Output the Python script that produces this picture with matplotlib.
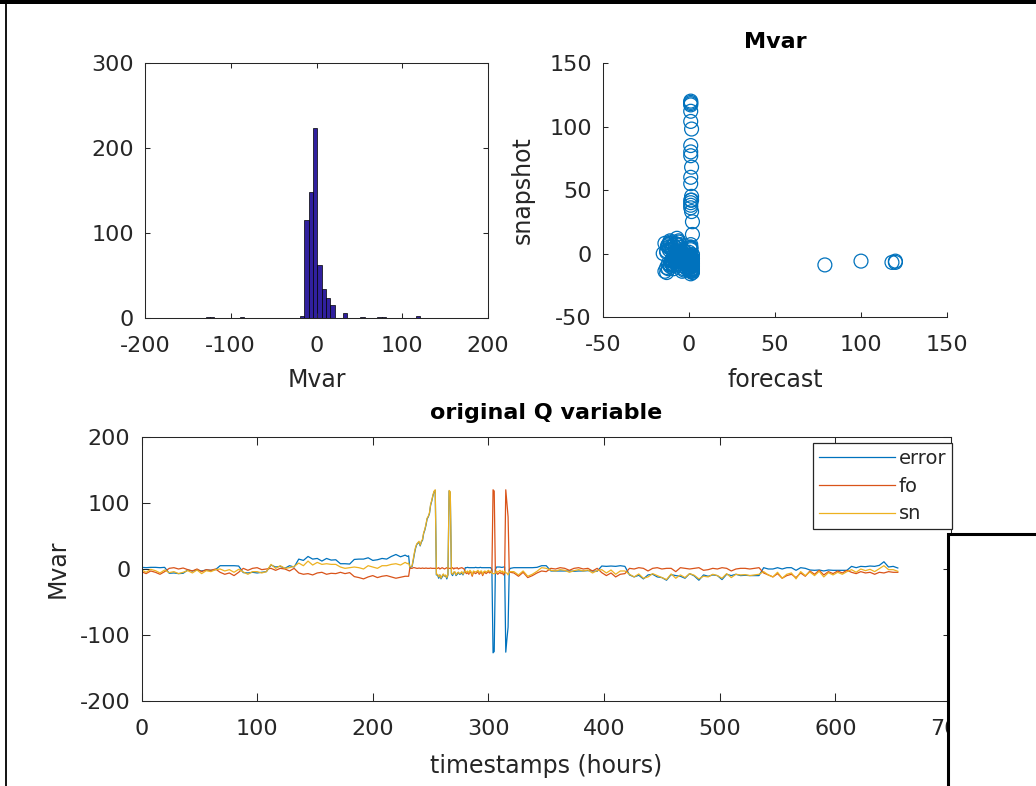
import numpy as np
import matplotlib.pyplot as plt
from matplotlib.patches import Rectangle
from matplotlib.lines import Line2D

# histogram of the error: left edge of each non-empty 5 Mvar bin and its count
hist_bin_left = [-129, -124, -89, -19, -14, -9, -4, 1, 6, 11, 16, 31, 51, 71, 76, 116]
hist_counts = [1, 1, 1, 2, 115, 148, 224, 62, 34, 23, 15, 6, 1, 1, 1, 2]
bin_width = 5

# time axis (hours), hourly around the spikes
hours = list(range(0, 229, 4)) + list(range(230, 320)) + list(range(322, 655, 4))

# forecast Q (Mvar)
fo = [
    -4, -7, -3, -5, -8, -4,
    1, 2, 0, 1.5,
    -1, -3, 0, -4, -1, -2, 0,
    -5, -8, -6, -10, -5,
    1, -2, 1, 2, -1, 0,
    1, -2, 1, 0, -3, 1,
    -6, -8, -7, -9, -6, -5, -8, -6.5, -7,
    -5, -7, -5.5,
    -11.5, -13, -15, -12, -10, -13, -11, -10, -12, -14, -12.5, -11,
    # hourly 230..319
    -11, -11,
    1, 1, 1, 2, 2, 1.5, 1, 1, 1.5, 1, 1, 1.5, 1, 1, 1.5, 1, 1, 1, 1.5, 1, 1, 1, 1, 1,
    1, 2, 0, 1, 2, 1, 0, 1, 2, 1,
    1, 1,
    1, 2, 0, 1.5, 1, 2, 0, 1, 1.5, 2, 1, 0,
    -5, -7, -5.5, -8, -4, -6, -11, -5, -6, -7, -5.5, -4, -8, -6, -5, -10, -6, -5, -7, -5.5, -4, -6, -5,
    -5, 120, 118, -5,
    -6, -8, -6.5, -5, -7, -5.5, -9, -6,
    120, 100, 79, -4, -5,
    # 322..654
    -6, -11, -5, -13, -10, -6,
    -3, -4,
    1, 0, 2, 1, -2, 1, 2, 0, 1, -3, 1,
    -5.5, -10, -6, -12, -8, -7,
    1, 0, 2, 1, -3, 1, 2, 0, 1, 1, -4, 2, 1, 0, 1, 2, -2, -1, 1, 0, 2, 1, -3, 0, 1,
    1, 0, 1, 2,
    -6, -9, -12, -7, -14, -10, -8, -13, -6, -11,
    -3, -8, -2, -9, -4, -7, -3, -6, -2,
    -5, -7, -4, -6, -5, -8, -5, -6, -4, -5, -5,
]

# snapshot Q (Mvar)
sn = [
    -1.5, -5, -0.5, -2.5, -6, -1.5,
    -5.5, -4, -7, -5,
    -2.5, -6, -1.5, -7, -2.5, -4, -1,
    0, -3, -1, -5, -0.5,
    -4.5, -8, -4, -4, -6, -4,
    7, 1, 5, 1, 2, 4,
    9, 5, 12, 6, 10, 7, 8, 7, 7,
    3, 1, 2,
    3, 2, 0, 5, 3, 1, 5, 5, 7, 8, 6, 10,
    # hourly 230..319
    8, 9,
    3, 4, 5, 15, 25, 33, 38, 40, 42, 36, 42, 45, 55, 60, 68, 77, 80, 85, 98, 104, 112, 118, 120, -8,
    -8, -12, -9, -14, -10, -7.5, -11, -9, -13, -8,
    119, 117,
    -6, -8, -5, -4, -9, -6, -5, -7, -6, -4, -8, -5,
    -3, -5, -3, -6, -2, -4, -9, -3, -4, -4.5, -3.5, -2, -6, -3.5, -3, -8, -4, -3, -5, -3.5, -2, -4, -3,
    -6, -7, -7, -6,
    -3, -5, -3.5, -2, -4.5, -3, -6, -3,
    -6, -6, -9, -5, -4,
    # 322..654
    -4, -9, -3, -11, -8, -3.5,
    2, 1,
    -2, -3, -1, -2, -5, -2.5, -1, -3, -1.5, -6, -2.5,
    -1, -6, -1.5, -8, -3, -3,
    -8, -12, -7.5, -14, -12, -7, -10, -13, -16, -7.5, -14, -9, -13, -7, -9.5, -15, -11, -12, -8, -10, -14, -7, -13, -8, -9,
    -8.5, -10, -9, -8,
    -4, -9, -12, -5, -14, -8, -6, -15, -4, -10,
    -4.5, -10, -3.5, -12, -5.5, -9, -5, -8, -4,
    -1, -5, 0, -2.5, -0.5, -4, 0.5, 5, -1, -1, -3.5,
]

hours = np.array(hours)
fo = np.array(fo, dtype=float)
sn = np.array(sn, dtype=float)
error = sn - fo

plt.rcParams['font.family'] = ['DejaVu Sans']
plt.rcParams['axes.unicode_minus'] = False
gray = '#262626'
W, H = 1036, 786
tick_fs = 16
label_fs = 17
title_fs = 16

fig = plt.figure(figsize=(W / 100, H / 100), dpi=100)


def px_axes(left, top, right, bottom):
    return fig.add_axes([left / W, 1 - bottom / H, (right - left) / W, (bottom - top) / H])


def style(ax, box=True, ticklen=3.5):
    for side, sp in ax.spines.items():
        sp.set_color(gray)
        sp.set_linewidth(0.75)
        if not box and side in ('top', 'right'):
            sp.set_visible(False)
    ax.tick_params(direction='in', length=ticklen, width=0.75, colors=gray,
                   labelsize=tick_fs, top=box, right=box)
    ax.tick_params(axis='x', pad=13)
    ax.tick_params(axis='y', pad=8)


# histogram
ax_h = px_axes(145, 63, 488, 318)
ax_h.bar(hist_bin_left, hist_counts, width=bin_width, align='edge',
         color='#30209e', edgecolor='black', linewidth=0.5)
ax_h.set_xlim(-200, 200)
ax_h.set_ylim(0, 300)
ax_h.set_xticks([-200, -100, 0, 100, 200])
ax_h.set_yticks([0, 100, 200, 300])
style(ax_h, box=True, ticklen=3.5)
ax_h.set_xlabel('Mvar', fontsize=label_fs, color=gray)
ax_h.xaxis.set_label_coords(0.5, -0.243)
ax_h.xaxis.label.set_va('center')

# scatter forecast vs snapshot
ax_s = px_axes(603, 63, 947, 317)
ax_s.scatter(fo, sn, s=100, facecolors='none', edgecolors='#0072BD', linewidths=0.9)
ax_s.set_xlim(-50, 150)
ax_s.set_ylim(-50, 150)
ax_s.set_xticks([-50, 0, 50, 100, 150])
ax_s.set_yticks([-50, 0, 50, 100, 150])
style(ax_s, box=False, ticklen=3.5)
ax_s.set_xlabel('forecast', fontsize=label_fs, color=gray)
ax_s.xaxis.set_label_coords(0.5, -0.248)
ax_s.xaxis.label.set_va('center')
ax_s.set_ylabel('snapshot', fontsize=label_fs, color=gray)
ax_s.yaxis.set_label_coords(-0.233, 0.5)
ax_s.yaxis.label.set_va('center')
ax_s.text(0.5, 1.083, 'Mvar', transform=ax_s.transAxes, ha='center', va='center',
          fontsize=title_fs, fontweight='bold', color='black')

# time series
ax_t = px_axes(141.5, 437, 951, 701)
ax_t.plot(hours, error, color='#0072BD', lw=0.9, label='error')
ax_t.plot(hours, fo, color='#D95319', lw=0.9, label='fo')
ax_t.plot(hours, sn, color='#EDB120', lw=0.9, label='sn')
ax_t.set_xlim(0, 700)
ax_t.set_ylim(-200, 200)
ax_t.set_xticks(range(0, 701, 100))
ax_t.set_yticks([-200, -100, 0, 100, 200])
style(ax_t, box=True, ticklen=6)
ax_t.set_xlabel('timestamps (hours)', fontsize=label_fs, color=gray)
ax_t.xaxis.set_label_coords(0.5, -0.246)
ax_t.xaxis.label.set_va('center')
ax_t.set_ylabel('Mvar', fontsize=label_fs, color=gray)
ax_t.yaxis.set_label_coords(-0.104, 0.5)
ax_t.yaxis.label.set_va('center')
ax_t.text(0.5, 1.091, 'original Q variable', transform=ax_t.transAxes, ha='center',
          va='center', fontsize=title_fs, fontweight='bold', color='black')
leg = ax_t.legend(loc='upper right', bbox_to_anchor=(952 / W, 1 - 443 / H),
                  bbox_transform=fig.transFigure, borderaxespad=0, fontsize=14,
                  handlelength=3.9, handletextpad=0.2, labelspacing=0.45,
                  borderpad=0.3, fancybox=False, framealpha=1, edgecolor=gray)
leg.get_frame().set_linewidth(0.9)
for t in leg.get_texts():
    t.set_color(gray)

# screenshot frame pieces
fig.patches.append(Rectangle((0, 1 - 4 / H), 1, 4 / H, transform=fig.transFigure,
                             facecolor='black', edgecolor='none', zorder=20))
fig.lines.append(Line2D([5.5 / W, 5.5 / W], [0, 1], transform=fig.transFigure,
                        color='black', lw=1.3, zorder=20))
fig.patches.append(Rectangle((947.5 / W, -0.05), 0.2, (786 - 533.5) / H + 0.05,
                             transform=fig.transFigure, facecolor='white',
                             edgecolor='black', lw=2.2, zorder=20))

fig.savefig('out.png', dpi=100)
